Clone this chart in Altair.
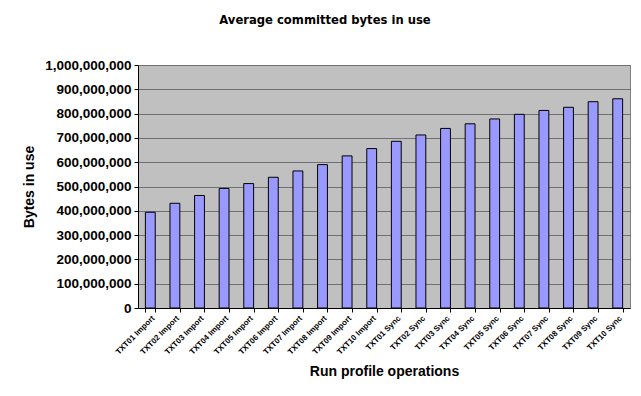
import altair as alt
import pandas as pd

operations = [
    "TXT01 Import", "TXT02 Import", "TXT03 Import", "TXT04 Import", "TXT05 Import",
    "TXT06 Import", "TXT07 Import", "TXT08 Import", "TXT09 Import", "TXT10 Import",
    "TXT01 Sync", "TXT02 Sync", "TXT03 Sync", "TXT04 Sync", "TXT05 Sync",
    "TXT06 Sync", "TXT07 Sync", "TXT08 Sync", "TXT09 Sync", "TXT10 Sync",
]
bytes_in_use = [
    394e6, 431e6, 463e6, 492e6, 512e6,
    538e6, 564e6, 590e6, 626e6, 656e6,
    686e6, 712e6, 739e6, 758e6, 778e6,
    797e6, 813e6, 826e6, 849e6, 861e6,
]
y_ticks = [i * 100_000_000 for i in range(11)]

df = pd.DataFrame({"op": operations, "bytes": bytes_in_use})

label_font = "Liberation Sans"

chart = (
    alt.Chart(df)
    .mark_bar(color="#9999FF", stroke="black", strokeWidth=1)
    .encode(
        x=alt.X(
            "op:N",
            sort=operations,
            title="Run profile operations",
            scale=alt.Scale(paddingInner=0.6, paddingOuter=0.3),
            axis=alt.Axis(
                labelAngle=-45,
                labelFont=label_font,
                labelFontWeight="bold",
                labelFontSize=8,
                labelColor="black",
                labelPadding=2,
                tickBand="extent",
                tickSize=4,
                tickColor="black",
                domainColor="black",
                grid=False,
                titleFont=label_font,
                titleFontSize=14,
                titleFontWeight="bold",
                titleColor="black",
                titlePadding=9,
            ),
        ),
        y=alt.Y(
            "bytes:Q",
            title="Bytes in use",
            scale=alt.Scale(domain=[0, 1_000_000_000], nice=False),
            axis=alt.Axis(
                values=y_ticks,
                format=",d",
                labelFont=label_font,
                labelFontWeight="bold",
                labelFontSize=13.5,
                labelColor="black",
                labelPadding=3,
                tickSize=4,
                tickColor="black",
                domainColor="black",
                grid=True,
                gridColor="#707070",
                gridWidth=1,
                titleFont=label_font,
                titleFontSize=14,
                titleFontWeight="bold",
                titleColor="black",
                titlePadding=8,
            ),
        ),
    )
    .properties(
        width=492,
        height=243,
        autosize=alt.AutoSizeParams(type="none"),
        padding={"left": 130, "top": 57, "right": 3, "bottom": 80},
        title=alt.Title(
            "Average committed bytes in use",
            font="DejaVu Sans",
            fontSize=11.6,
            fontWeight="bold",
            color="black",
            anchor="middle",
            frame="group",
            dx=-59,
            offset=31,
        ),
    )
    .configure_view(fill="#C0C0C0", stroke="#808080", strokeWidth=1)
)

chart.save("out.html", embed_options={"renderer": "svg", "actions": False})
